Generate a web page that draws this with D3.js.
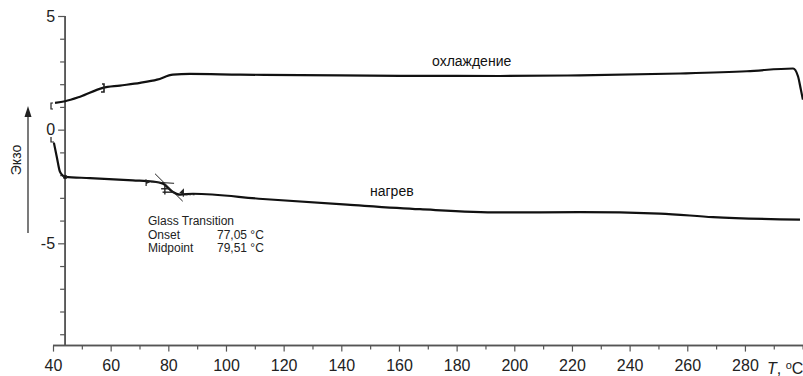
<!DOCTYPE html>
<html>
<head>
<meta charset="utf-8">
<script src="https://cdn.jsdelivr.net/npm/d3@7"></script>
<style>
  body { margin: 0; background: #fff; }
  text { font-family: "Liberation Sans", Arial, sans-serif; }
</style>
</head>
<body>
<script>
// DSC curves
var coolT = [40.7, 44.2, 49.4, 57.3, 63.2, 70.2, 76.1, 81.6, 87.5, 104.9, 125.7, 160.4, 195, 222.8, 257.5, 280.7, 296.7, 298.4, 299.4, 300.1];
var coolV = [1.18, 1.25, 1.45, 1.84, 1.94, 2.06, 2.20, 2.42, 2.45, 2.42, 2.40, 2.37, 2.36, 2.39, 2.47, 2.57, 2.69, 2.35, 1.76, 1.32];

var heatT = [40.3, 41.3, 42.4, 43.5, 44.2, 52.8, 67.7, 74.7, 78.2, 81.3, 84.1, 88.6, 112.8, 142, 167.3, 195, 222.8, 250.5, 268.9, 299.1];
var heatV = [-0.57, -1.19, -1.85, -2.03, -2.08, -2.13, -2.23, -2.28, -2.38, -2.72, -2.86, -2.82, -3.05, -3.30, -3.50, -3.64, -3.63, -3.69, -3.85, -3.96];

var xMajor = [40, 60, 80, 100, 120, 140, 160, 180, 200, 220, 240, 260, 280];
var xMinor = [50, 70, 90, 110, 130, 150, 170, 190, 210, 230, 250, 270, 290, 300];
var yMajor = [5, 0, -5];
var yMinor = [4, 3, 2, 1, -1, -2, -3, -4, -6, -7, -8, -9];

var gtLines = ["Glass Transition", "Onset", "Midpoint"];
var gtValues = ["", "77,05 °C", "79,51 °C"];

var width = 803, height = 376;
var svg = d3.select("body").append("svg").attr("width", width).attr("height", height);

var x = d3.scaleLinear().domain([40, 300]).range([53, 802.6]);
var y = d3.scaleLinear().domain([5, -9.5]).range([16, 345.6]);
var axisX = x(44.2);
var axisColor = "#555";

// x axis
var gx = svg.append("g").attr("transform", "translate(0," + y(-9.5) + ")");
gx.call(d3.axisBottom(x).tickValues(xMajor).tickSize(6).tickSizeOuter(0).tickPadding(8));
gx.append("g").call(d3.axisBottom(x).tickValues(xMinor).tickSize(4).tickFormat(""));
gx.selectAll("path").attr("stroke", axisColor).attr("stroke-width", 1.5).attr("d", "M53,0H803");
gx.selectAll("line").attr("stroke", axisColor).attr("stroke-width", 1.2);
gx.selectAll("text").attr("font-size", 16).attr("fill", "#222").attr("font-family", "Liberation Sans, Arial, sans-serif");

// y axis
var gy = svg.append("g").attr("transform", "translate(" + axisX + ",0)");
var yMajorG = gy.append("g").call(d3.axisLeft(y).tickValues(yMajor).tickSize(7).tickSizeOuter(0).tickPadding(3)
  .tickFormat(function(d) { return d < 0 ? "-" + Math.abs(d) : d; }));
gy.append("g").call(d3.axisLeft(y).tickValues(yMinor).tickSize(5).tickFormat(""));
gy.selectAll("path").attr("stroke", axisColor).attr("stroke-width", 1.5).attr("d", "M0," + y(5) + "V" + y(-9.5));
gy.selectAll("line").attr("stroke", axisColor).attr("stroke-width", 1.2);
yMajorG.selectAll("text").attr("font-size", 16).attr("fill", "#222").attr("font-family", "Liberation Sans, Arial, sans-serif");

// axis name T, °C
var tl = svg.append("text").attr("x", 767).attr("y", 374).attr("font-size", 16).attr("fill", "#222");
tl.append("tspan").attr("font-style", "italic").text("T");
tl.append("tspan").text(", ");
tl.append("tspan").attr("font-size", 11).attr("dy", -5).text("o");
tl.append("tspan").attr("dy", 5).text("C");

// exo arrow
svg.append("line").attr("x1", 28).attr("x2", 28).attr("y1", 233).attr("y2", 112)
  .attr("stroke", "#333").attr("stroke-width", 1.3);
svg.append("path").attr("d", "M24.5,117 L28,106 L31.5,117 Z").attr("fill", "#222");
svg.append("text").attr("transform", "translate(21,160) rotate(-90)").attr("text-anchor", "middle")
  .attr("font-size", 14).attr("fill", "#222").text("Экзо");

// curves
var line = d3.line().x(function(d) { return x(d[0]); }).y(function(d) { return y(d[1]); }).curve(d3.curveMonotoneX);
var cool = d3.zip(coolT, coolV), heat = d3.zip(heatT, heatV);
svg.append("path").datum(cool).attr("d", line).attr("fill", "none").attr("stroke", "#111").attr("stroke-width", 2.2);
svg.append("path").datum(heat).attr("d", line).attr("fill", "none").attr("stroke", "#111").attr("stroke-width", 2.2);

// little marks: brackets, tangents, flags
var mk = svg.append("g").attr("fill", "none").attr("stroke", "#222").attr("stroke-width", 1.2);
mk.append("path").attr("d", "M53,103 h-2 v6 h2");
mk.append("path").attr("d", "M51,137 v5 h3");
mk.append("path").attr("d", "M102,84 h2 v8 h-3").attr("stroke-width", 1.6);
mk.append("circle").attr("cx", x(44.2)).attr("cy", y(-2.08)).attr("r", 1.6).attr("fill", "#111");
// onset tangent lines
mk.append("line").attr("x1", x(75.4)).attr("y1", y(-1.94)).attr("x2", x(85)).attr("y2", y(-3.15)).attr("stroke-width", 1);
mk.append("line").attr("x1", x(74)).attr("y1", y(-2.30)).attr("x2", x(82)).attr("y2", y(-2.36)).attr("stroke-width", 1);
mk.append("line").attr("x1", x(77.5)).attr("y1", y(-2.6)).attr("x2", x(80.5)).attr("y2", y(-2.6)).attr("stroke-width", 1.4);
mk.append("line").attr("x1", x(78)).attr("y1", y(-2.75)).attr("x2", x(82)).attr("y2", y(-2.75)).attr("stroke-width", 1.4);
mk.append("line").attr("x1", x(78.8)).attr("y1", y(-2.45)).attr("x2", x(78.8)).attr("y2", y(-2.85)).attr("stroke-width", 1.4);
// flags
mk.append("path").attr("d", "M" + x(72.3) + "," + y(-2.48) + " v-6 l3,2 l-3,1.5").attr("fill", "#222");
mk.append("path").attr("d", "M" + x(85.2) + "," + y(-2.95) + " v-7 l-3,3 l3,1").attr("fill", "#222");
mk.append("line").attr("x1", x(86)).attr("y1", y(-2.85)).attr("x2", x(89.5)).attr("y2", y(-2.85)).attr("stroke-dasharray", "2,1.5").attr("stroke-width", 1.4);

// labels
svg.append("text").attr("x", 432).attr("y", 66).attr("font-size", 14).attr("fill", "#111").text("охлаждение");
svg.append("text").attr("x", 370).attr("y", 196).attr("font-size", 14).attr("fill", "#111").text("нагрев");

var gt = svg.append("g").attr("font-size", 12).attr("fill", "#222");
gtLines.forEach(function(s, i) {
  gt.append("text").attr("x", 148).attr("y", 225 + i * 13.5).text(s);
  if (gtValues[i]) gt.append("text").attr("x", 217).attr("y", 225 + i * 13.5).text(gtValues[i]);
});
</script>
</body>
</html>
